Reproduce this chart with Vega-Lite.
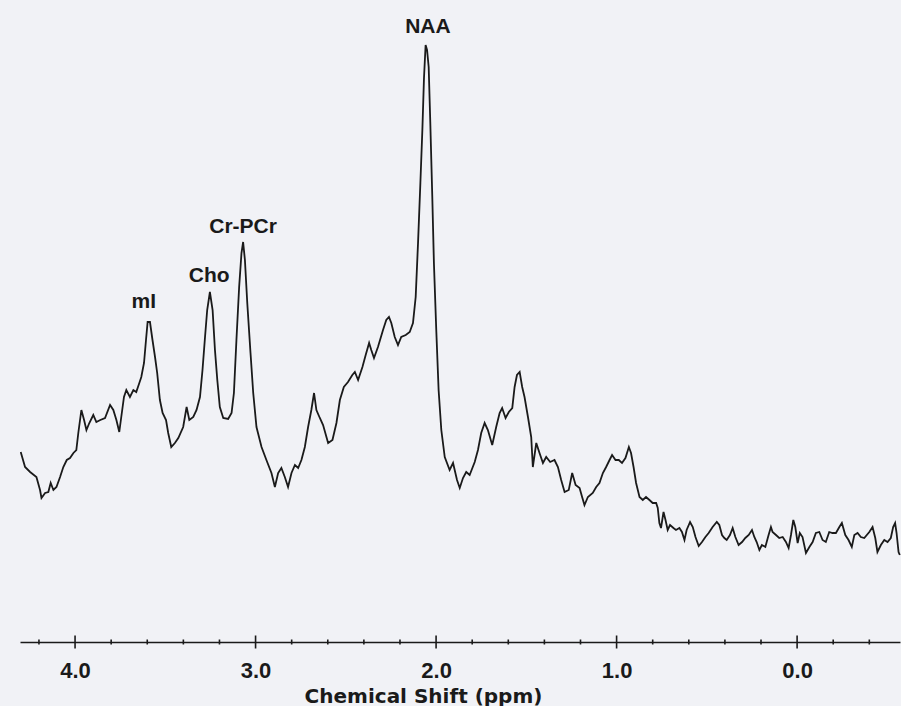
{
  "$schema": "https://vega.github.io/schema/vega-lite/v6.json",
  "width": 880,
  "height": 642,
  "padding": {"left": 17, "top": 0, "right": 4, "bottom": 0},
  "background": "#f1f2f6",
  "config": {"view": {"stroke": null}},
  "datasets": {
    "spectrum": [
      {"ppm":4.301,"intensity":190},{"ppm":4.277,"intensity":175},{"ppm":4.249,"intensity":170},{"ppm":4.214,"intensity":165},{"ppm":4.194,"intensity":152},{"ppm":4.186,"intensity":144},{"ppm":4.166,"intensity":149},{"ppm":4.148,"intensity":150},{"ppm":4.135,"intensity":159},{"ppm":4.120,"intensity":152},{"ppm":4.103,"intensity":155},{"ppm":4.083,"intensity":165},{"ppm":4.065,"intensity":175},{"ppm":4.046,"intensity":182},{"ppm":4.028,"intensity":184},{"ppm":4.009,"intensity":189},{"ppm":3.993,"intensity":192},{"ppm":3.982,"intensity":209},{"ppm":3.965,"intensity":232},{"ppm":3.950,"intensity":222},{"ppm":3.937,"intensity":212},{"ppm":3.921,"intensity":219},{"ppm":3.899,"intensity":227},{"ppm":3.882,"intensity":220},{"ppm":3.860,"intensity":222},{"ppm":3.834,"intensity":224},{"ppm":3.806,"intensity":237},{"ppm":3.788,"intensity":232},{"ppm":3.771,"intensity":222},{"ppm":3.755,"intensity":210},{"ppm":3.744,"intensity":225},{"ppm":3.729,"intensity":245},{"ppm":3.716,"intensity":252},{"ppm":3.696,"intensity":245},{"ppm":3.677,"intensity":252},{"ppm":3.661,"intensity":250},{"ppm":3.644,"intensity":259},{"ppm":3.633,"intensity":265},{"ppm":3.618,"intensity":279},{"ppm":3.607,"intensity":302},{"ppm":3.598,"intensity":320},{"ppm":3.585,"intensity":320},{"ppm":3.571,"intensity":302},{"ppm":3.557,"intensity":285},{"ppm":3.545,"intensity":269},{"ppm":3.530,"intensity":242},{"ppm":3.515,"intensity":229},{"ppm":3.496,"intensity":222},{"ppm":3.484,"intensity":209},{"ppm":3.467,"intensity":195},{"ppm":3.447,"intensity":199},{"ppm":3.428,"intensity":204},{"ppm":3.401,"intensity":215},{"ppm":3.382,"intensity":235},{"ppm":3.367,"intensity":222},{"ppm":3.345,"intensity":225},{"ppm":3.327,"intensity":232},{"ppm":3.308,"intensity":245},{"ppm":3.294,"intensity":272},{"ppm":3.280,"intensity":305},{"ppm":3.268,"intensity":332},{"ppm":3.253,"intensity":350},{"ppm":3.238,"intensity":332},{"ppm":3.225,"intensity":292},{"ppm":3.212,"intensity":262},{"ppm":3.198,"intensity":235},{"ppm":3.179,"intensity":224},{"ppm":3.152,"intensity":223},{"ppm":3.133,"intensity":229},{"ppm":3.120,"intensity":249},{"ppm":3.106,"intensity":302},{"ppm":3.091,"intensity":355},{"ppm":3.078,"intensity":389},{"ppm":3.069,"intensity":400},{"ppm":3.059,"intensity":382},{"ppm":3.046,"intensity":339},{"ppm":3.028,"intensity":289},{"ppm":3.013,"intensity":249},{"ppm":2.995,"intensity":215},{"ppm":2.967,"intensity":195},{"ppm":2.940,"intensity":182},{"ppm":2.912,"intensity":169},{"ppm":2.893,"intensity":155},{"ppm":2.875,"intensity":169},{"ppm":2.857,"intensity":174},{"ppm":2.838,"intensity":165},{"ppm":2.820,"intensity":155},{"ppm":2.801,"intensity":169},{"ppm":2.782,"intensity":177},{"ppm":2.764,"intensity":174},{"ppm":2.746,"intensity":182},{"ppm":2.727,"intensity":195},{"ppm":2.709,"intensity":215},{"ppm":2.691,"intensity":232},{"ppm":2.676,"intensity":249},{"ppm":2.663,"intensity":232},{"ppm":2.644,"intensity":224},{"ppm":2.626,"intensity":217},{"ppm":2.598,"intensity":199},{"ppm":2.574,"intensity":202},{"ppm":2.552,"intensity":219},{"ppm":2.533,"intensity":242},{"ppm":2.511,"intensity":255},{"ppm":2.488,"intensity":260},{"ppm":2.464,"intensity":267},{"ppm":2.450,"intensity":270},{"ppm":2.432,"intensity":262},{"ppm":2.408,"intensity":275},{"ppm":2.390,"intensity":287},{"ppm":2.371,"intensity":299},{"ppm":2.359,"intensity":292},{"ppm":2.344,"intensity":284},{"ppm":2.322,"intensity":295},{"ppm":2.294,"intensity":312},{"ppm":2.276,"intensity":322},{"ppm":2.261,"intensity":325},{"ppm":2.248,"intensity":319},{"ppm":2.229,"intensity":305},{"ppm":2.211,"intensity":297},{"ppm":2.193,"intensity":305},{"ppm":2.168,"intensity":307},{"ppm":2.146,"intensity":310},{"ppm":2.128,"intensity":319},{"ppm":2.113,"intensity":345},{"ppm":2.100,"intensity":399},{"ppm":2.087,"intensity":459},{"ppm":2.076,"intensity":512},{"ppm":2.067,"intensity":564},{"ppm":2.058,"intensity":597},{"ppm":2.050,"intensity":592},{"ppm":2.041,"intensity":575},{"ppm":2.032,"intensity":519},{"ppm":2.021,"intensity":445},{"ppm":2.012,"intensity":379},{"ppm":1.999,"intensity":312},{"ppm":1.986,"intensity":252},{"ppm":1.971,"intensity":212},{"ppm":1.952,"intensity":185},{"ppm":1.925,"intensity":172},{"ppm":1.906,"intensity":179},{"ppm":1.884,"intensity":162},{"ppm":1.869,"intensity":154},{"ppm":1.851,"intensity":164},{"ppm":1.833,"intensity":170},{"ppm":1.814,"intensity":167},{"ppm":1.786,"intensity":180},{"ppm":1.768,"intensity":192},{"ppm":1.750,"intensity":209},{"ppm":1.731,"intensity":219},{"ppm":1.713,"intensity":212},{"ppm":1.689,"intensity":197},{"ppm":1.667,"intensity":215},{"ppm":1.648,"intensity":229},{"ppm":1.634,"intensity":234},{"ppm":1.615,"intensity":224},{"ppm":1.597,"intensity":230},{"ppm":1.578,"intensity":234},{"ppm":1.565,"intensity":255},{"ppm":1.552,"intensity":267},{"ppm":1.537,"intensity":270},{"ppm":1.523,"intensity":255},{"ppm":1.510,"intensity":245},{"ppm":1.491,"intensity":225},{"ppm":1.473,"intensity":205},{"ppm":1.464,"intensity":175},{"ppm":1.445,"intensity":199},{"ppm":1.427,"intensity":189},{"ppm":1.408,"intensity":179},{"ppm":1.390,"intensity":185},{"ppm":1.368,"intensity":180},{"ppm":1.344,"intensity":182},{"ppm":1.325,"intensity":175},{"ppm":1.307,"intensity":162},{"ppm":1.288,"intensity":150},{"ppm":1.265,"intensity":152},{"ppm":1.246,"intensity":169},{"ppm":1.227,"intensity":157},{"ppm":1.205,"intensity":154},{"ppm":1.191,"intensity":145},{"ppm":1.178,"intensity":137},{"ppm":1.159,"intensity":145},{"ppm":1.132,"intensity":149},{"ppm":1.113,"intensity":155},{"ppm":1.095,"intensity":159},{"ppm":1.076,"intensity":169},{"ppm":1.058,"intensity":175},{"ppm":1.039,"intensity":182},{"ppm":1.025,"intensity":187},{"ppm":1.006,"intensity":182},{"ppm":0.988,"intensity":182},{"ppm":0.970,"intensity":179},{"ppm":0.951,"intensity":184},{"ppm":0.932,"intensity":195},{"ppm":0.920,"intensity":189},{"ppm":0.906,"intensity":175},{"ppm":0.892,"intensity":159},{"ppm":0.873,"intensity":145},{"ppm":0.855,"intensity":142},{"ppm":0.837,"intensity":145},{"ppm":0.818,"intensity":142},{"ppm":0.800,"intensity":139},{"ppm":0.781,"intensity":139},{"ppm":0.772,"intensity":134},{"ppm":0.763,"intensity":119},{"ppm":0.754,"intensity":114},{"ppm":0.740,"intensity":130},{"ppm":0.729,"intensity":122},{"ppm":0.717,"intensity":112},{"ppm":0.704,"intensity":117},{"ppm":0.685,"intensity":114},{"ppm":0.671,"intensity":112},{"ppm":0.652,"intensity":114},{"ppm":0.638,"intensity":110},{"ppm":0.624,"intensity":102},{"ppm":0.612,"intensity":112},{"ppm":0.593,"intensity":120},{"ppm":0.578,"intensity":115},{"ppm":0.563,"intensity":105},{"ppm":0.545,"intensity":96},{"ppm":0.527,"intensity":100},{"ppm":0.508,"intensity":105},{"ppm":0.490,"intensity":109},{"ppm":0.468,"intensity":115},{"ppm":0.445,"intensity":120},{"ppm":0.431,"intensity":117},{"ppm":0.416,"intensity":107},{"ppm":0.403,"intensity":104},{"ppm":0.390,"intensity":102},{"ppm":0.372,"intensity":107},{"ppm":0.357,"intensity":114},{"ppm":0.342,"intensity":105},{"ppm":0.324,"intensity":97},{"ppm":0.305,"intensity":100},{"ppm":0.287,"intensity":104},{"ppm":0.268,"intensity":107},{"ppm":0.250,"intensity":112},{"ppm":0.237,"intensity":105},{"ppm":0.224,"intensity":100},{"ppm":0.209,"intensity":92},{"ppm":0.195,"intensity":97},{"ppm":0.176,"intensity":95},{"ppm":0.158,"intensity":107},{"ppm":0.145,"intensity":115},{"ppm":0.136,"intensity":110},{"ppm":0.117,"intensity":107},{"ppm":0.099,"intensity":104},{"ppm":0.080,"intensity":105},{"ppm":0.062,"intensity":100},{"ppm":0.047,"intensity":94},{"ppm":0.034,"intensity":107},{"ppm":0.021,"intensity":122},{"ppm":0.010,"intensity":115},{"ppm":-0.003,"intensity":99},{"ppm":-0.015,"intensity":109},{"ppm":-0.030,"intensity":105},{"ppm":-0.049,"intensity":89},{"ppm":-0.068,"intensity":95},{"ppm":-0.086,"intensity":100},{"ppm":-0.104,"intensity":109},{"ppm":-0.123,"intensity":110},{"ppm":-0.141,"intensity":102},{"ppm":-0.159,"intensity":100},{"ppm":-0.178,"intensity":110},{"ppm":-0.196,"intensity":109},{"ppm":-0.215,"intensity":109},{"ppm":-0.234,"intensity":115},{"ppm":-0.248,"intensity":119},{"ppm":-0.267,"intensity":107},{"ppm":-0.285,"intensity":102},{"ppm":-0.303,"intensity":95},{"ppm":-0.317,"intensity":107},{"ppm":-0.335,"intensity":109},{"ppm":-0.353,"intensity":105},{"ppm":-0.372,"intensity":104},{"ppm":-0.400,"intensity":110},{"ppm":-0.418,"intensity":115},{"ppm":-0.433,"intensity":104},{"ppm":-0.445,"intensity":90},{"ppm":-0.464,"intensity":97},{"ppm":-0.483,"intensity":102},{"ppm":-0.501,"intensity":100},{"ppm":-0.519,"intensity":104},{"ppm":-0.532,"intensity":115},{"ppm":-0.543,"intensity":119},{"ppm":-0.551,"intensity":109},{"ppm":-0.562,"intensity":90},{"ppm":-0.569,"intensity":87}
    ],
    "axisticks": [
      {"ppm":4.0,"intensity":0,"kind":"major"},{"ppm":3.0,"intensity":0,"kind":"major"},{"ppm":2.0,"intensity":0,"kind":"major"},{"ppm":1.0,"intensity":0,"kind":"major"},{"ppm":0.0,"intensity":0,"kind":"major"},
      {"ppm":4.2,"intensity":0,"kind":"minor"},{"ppm":3.8,"intensity":0,"kind":"minor"},{"ppm":3.6,"intensity":0,"kind":"minor"},{"ppm":3.4,"intensity":0,"kind":"minor"},{"ppm":3.2,"intensity":0,"kind":"minor"},
      {"ppm":2.8,"intensity":0,"kind":"minor"},{"ppm":2.6,"intensity":0,"kind":"minor"},{"ppm":2.4,"intensity":0,"kind":"minor"},{"ppm":2.2,"intensity":0,"kind":"minor"},
      {"ppm":1.8,"intensity":0,"kind":"minor"},{"ppm":1.6,"intensity":0,"kind":"minor"},{"ppm":1.4,"intensity":0,"kind":"minor"},{"ppm":1.2,"intensity":0,"kind":"minor"},
      {"ppm":0.8,"intensity":0,"kind":"minor"},{"ppm":0.6,"intensity":0,"kind":"minor"},{"ppm":0.4,"intensity":0,"kind":"minor"},{"ppm":0.2,"intensity":0,"kind":"minor"},
      {"ppm":-0.2,"intensity":0,"kind":"minor"},{"ppm":-0.4,"intensity":0,"kind":"minor"}
    ],
    "peaks": [
      {"ppm":3.619,"intensity":334,"label":"mI"},
      {"ppm":3.257,"intensity":360,"label":"Cho"},
      {"ppm":3.069,"intensity":409,"label":"Cr-PCr"},
      {"ppm":2.045,"intensity":609,"label":"NAA"}
    ]
  },
  "encoding": {
    "x": {
      "field": "ppm",
      "type": "quantitative",
      "scale": {"domain": [-0.57, 4.305], "reverse": true, "nice": false, "zero": false},
      "axis": {
        "values": [4, 3, 2, 1, 0],
        "format": ".1f",
        "ticks": false,
        "tickSize": 0,
        "grid": false,
        "domainColor": "#1a1a1a",
        "domainWidth": 1.5,
        "labelFont": "Liberation Sans",
        "labelFontSize": 22,
        "labelFontWeight": "bold",
        "labelColor": "#1a1a1a",
        "labelPadding": 18,
        "labelFlush": false,
        "title": "Chemical Shift (ppm)",
        "titleFont": "DejaVu Sans",
        "titleFontSize": 20,
        "titleFontWeight": "bold",
        "titleColor": "#1a1a1a",
        "titlePadding": 5,
        "titleX": 403,
        "titleAlign": "center"
      }
    },
    "y": {
      "field": "intensity",
      "type": "quantitative",
      "scale": {"domain": [0, 642], "nice": false, "zero": false},
      "axis": null
    }
  },
  "layer": [
    {
      "data": {"name": "spectrum"},
      "mark": {"type": "line", "color": "#1a1a1a", "strokeWidth": 1.8}
    },
    {
      "data": {"name": "axisticks"},
      "mark": {"type": "point", "shape": "M0,-1L0,1", "filled": false, "strokeWidth": 1.6, "color": "#1a1a1a", "opacity": 1},
      "encoding": {
        "size": {"field": "kind", "type": "nominal", "scale": {"domain": ["major", "minor"], "range": [169, 25]}, "legend": null}
      }
    },
    {
      "data": {"name": "peaks"},
      "mark": {"type": "text", "font": "Liberation Sans", "fontSize": 21, "fontWeight": "bold", "align": "center", "baseline": "alphabetic", "color": "#1a1a1a"},
      "encoding": {"text": {"field": "label", "type": "nominal"}}
    }
  ]
}
